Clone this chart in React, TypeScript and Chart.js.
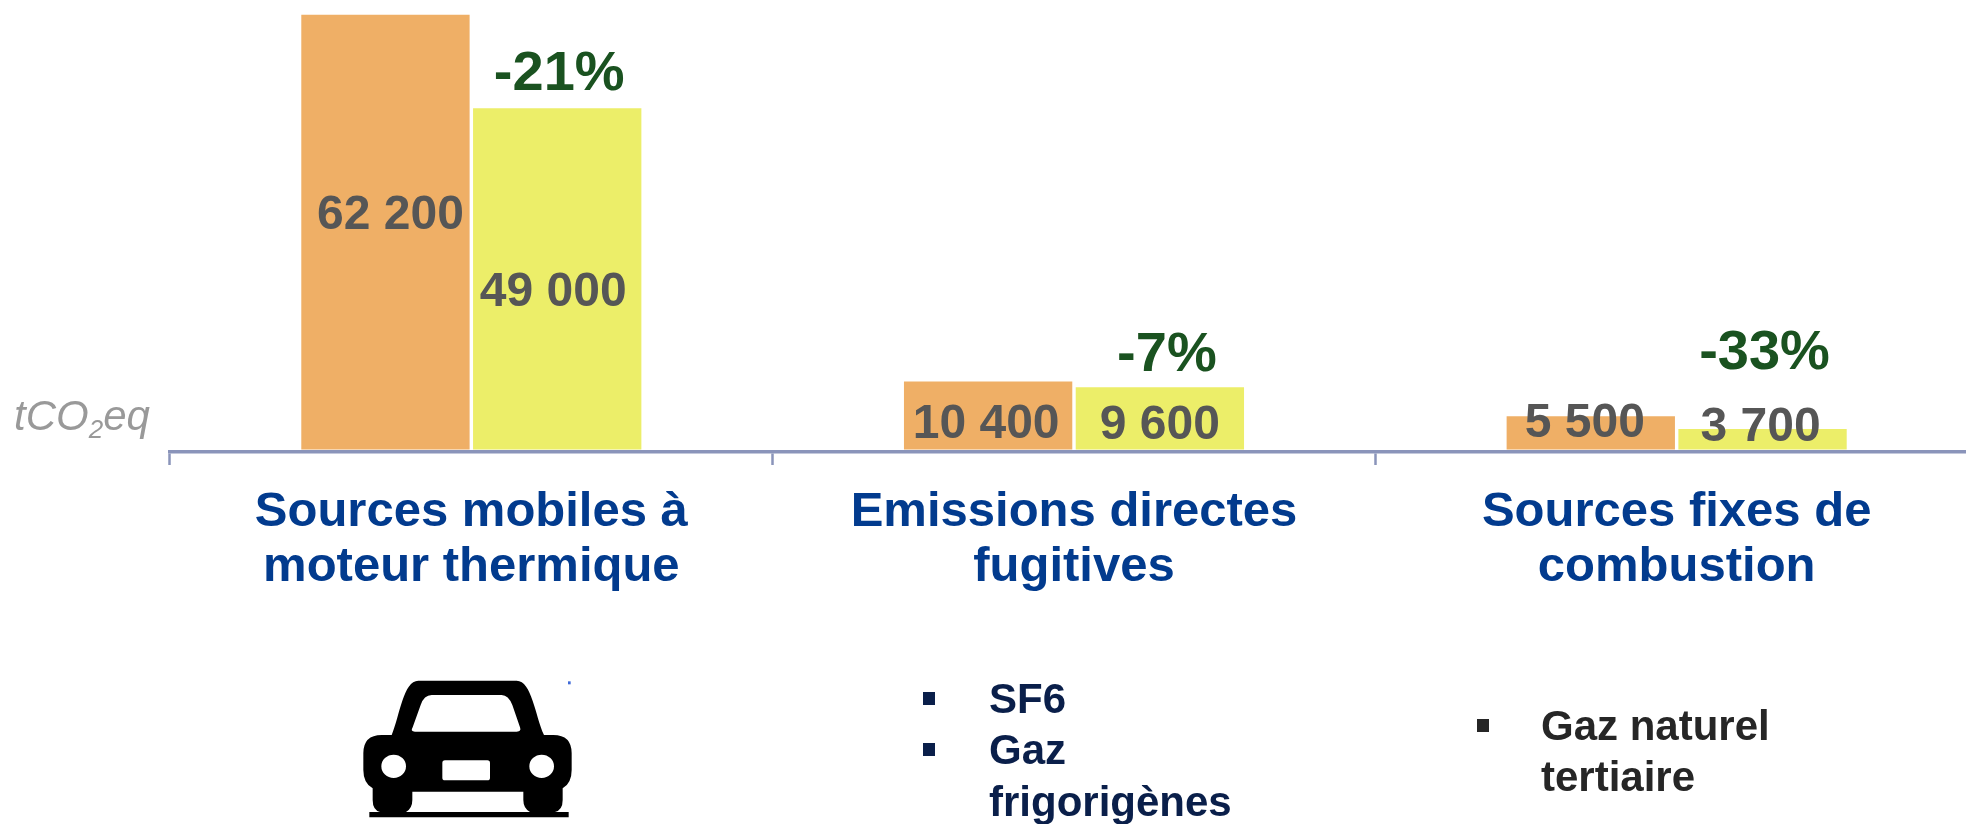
import React, { useEffect, useRef } from "react";
import { Chart, registerables } from "chart.js";

Chart.register(...registerables);

const FONT = '"Liberation Sans", Arial, sans-serif';

const categories = [
  ["Sources mobiles à", "moteur thermique"],
  ["Emissions directes", "fugitives"],
  ["Sources fixes de", "combustion"],
];
const firstValues = [62200, 10400, 5500];
const secondValues = [49000, 9600, 3700];
const changeLabels = ["-21%", "-7%", "-33%"];

// Label nudges relative to the bars, in pixels
const firstLabelNudge = [[5, -16], [-2, 9], [-6, -9]];
const secondLabelNudge = [[-4, 14], [0, 7], [-2, -11]];
const changeLabelNudge = [[2, -34], [7, -32], [2, -75]];

const fmt = (v: number) => String(v).replace(/\B(?=(\d{3})+$)/g, " ");

const labelPlugin = {
  id: "barLabels",
  afterDatasetsDraw(chart: any) {
    const { ctx } = chart;
    const m0 = chart.getDatasetMeta(0).data;
    const m1 = chart.getDatasetMeta(1).data;
    ctx.save();
    ctx.textAlign = "center";
    ctx.textBaseline = "middle";
    ctx.font = `bold 48px ${FONT}`;
    ctx.fillStyle = "#565656";
    const put = (bar: any, value: number, n: number[]) => {
      const mid = (bar.y + bar.base) / 2;
      ctx.fillText(fmt(value), bar.x + n[0], mid + n[1]);
    };
    firstValues.forEach((v, i) => put(m0[i], v, firstLabelNudge[i]));
    secondValues.forEach((v, i) => put(m1[i], v, secondLabelNudge[i]));
    ctx.font = `bold 56px ${FONT}`;
    ctx.fillStyle = "#1A5220";
    changeLabels.forEach((t, i) => {
      const n = changeLabelNudge[i];
      ctx.fillText(t, m1[i].x + n[0], m1[i].y + n[1]);
    });
    ctx.restore();
  },
};

const abs = (left: number, top: number, extra: React.CSSProperties = {}): React.CSSProperties => ({
  position: "absolute",
  left,
  top,
  fontFamily: FONT,
  whiteSpace: "nowrap",
  ...extra,
});

function BulletLine({ x, y, color, text, bullet }: { x: number; y: number; color: string; text: string; bullet?: number }) {
  return (
    <>
      {bullet !== undefined && (
        <div style={{ position: "absolute", left: bullet, top: y - 7, width: 12, height: 13, background: color }} />
      )}
      <div style={abs(x, y - 26, { fontSize: 42, fontWeight: "bold", lineHeight: "52px", color })}>{text}</div>
    </>
  );
}

export default function App() {
  const ref = useRef<HTMLCanvasElement>(null);
  useEffect(() => {
    const chart = new Chart(ref.current!, {
      type: "bar",
      data: {
        labels: categories,
        datasets: [
          { label: "Avant", data: firstValues, backgroundColor: "#EFAF66", base: 800 },
          { label: "Après", data: secondValues, backgroundColor: "#ECEE69", base: 800 },
        ],
      },
      plugins: [labelPlugin],
      options: {
        animation: false,
        responsive: false,
        categoryPercentage: 0.57,
        barPercentage: 0.98,
        layout: { padding: { left: 170, right: 22, top: 2, bottom: 0 } },
        plugins: { legend: { display: false }, tooltip: { enabled: false } },
        scales: {
          y: { display: false, min: 450, max: 64000 },
          x: {
            afterFit: (s: any) => {
              s.height = 824 - 452;
            },
            border: { color: "#8A94BA", width: 3.5 },
            grid: {
              offset: true,
              drawOnChartArea: false,
              drawTicks: true,
              tickLength: 13,
              tickWidth: 2.5,
              tickColor: "#8A94BA",
            },
            ticks: {
              autoSkip: false,
              maxRotation: 0,
              padding: 20,
              color: "#023B8E",
              font: { family: FONT, size: 49, weight: "bold", lineHeight: 55 / 49 },
            },
          },
        },
      },
    } as any);
    return () => chart.destroy();
  }, []);

  return (
    <div style={{ position: "absolute", left: 0, top: 0, width: 1966, height: 824, overflow: "hidden", background: "#fff" }}>
      <canvas ref={ref} width={2000} height={824} style={{ position: "absolute", left: 0, top: 0, width: 2000, height: 824 }} />

      <div style={abs(14, 391, { fontSize: 42, fontStyle: "italic", color: "#999999", lineHeight: "50px" })}>
        tCO<sub style={{ fontSize: 26, verticalAlign: "-8px", lineHeight: 0 }}>2</sub>eq
      </div>

      <BulletLine x={989} y={699} color="#0A1F4A" text="SF6" bullet={923} />
      <BulletLine x={989} y={750} color="#0A1F4A" text="Gaz" bullet={923} />
      <BulletLine x={989} y={802} color="#0A1F4A" text="frigorigènes" />
      <BulletLine x={1541} y={726} color="#262626" text="Gaz naturel" bullet={1477} />
      <BulletLine x={1541} y={777} color="#262626" text="tertiaire" />

      <svg style={{ position: "absolute", left: 300, top: 640 }} width={340} height={184} viewBox="0 0 1020 552">
        <path
          fill="#000"
          fillRule="evenodd"
          d="M275 285 C300 225 310 122 355 122 H650 C695 122 705 225 732 285 H760 Q815 285 815 340 V390 Q815 430 788 445 V480 Q788 510 765 516 H806 V532 H208 V516 H240 Q218 510 218 480 V445 Q190 430 190 390 V340 Q190 285 245 285 Z
             M345 275 Q330 275 338 262 L362 195 Q372 165 395 165 H605 Q625 165 637 195 L660 262 Q665 275 650 275 Z
             M337 455 H670 V480 Q670 505 690 516 H318 Q337 505 337 480 Z
             M435 361 H562 Q570 361 570 369 V413 Q570 421 562 421 H435 Q427 421 427 413 V369 Q427 361 435 361 Z
             M244 379 A37 35 0 1 0 318 379 A37 35 0 1 0 244 379 Z
             M688 379 A37 35 0 1 0 762 379 A37 35 0 1 0 688 379 Z"
        />
        <rect x={804} y={124} width={8} height={9} fill="#3F6AD8" />
      </svg>
    </div>
  );
}
